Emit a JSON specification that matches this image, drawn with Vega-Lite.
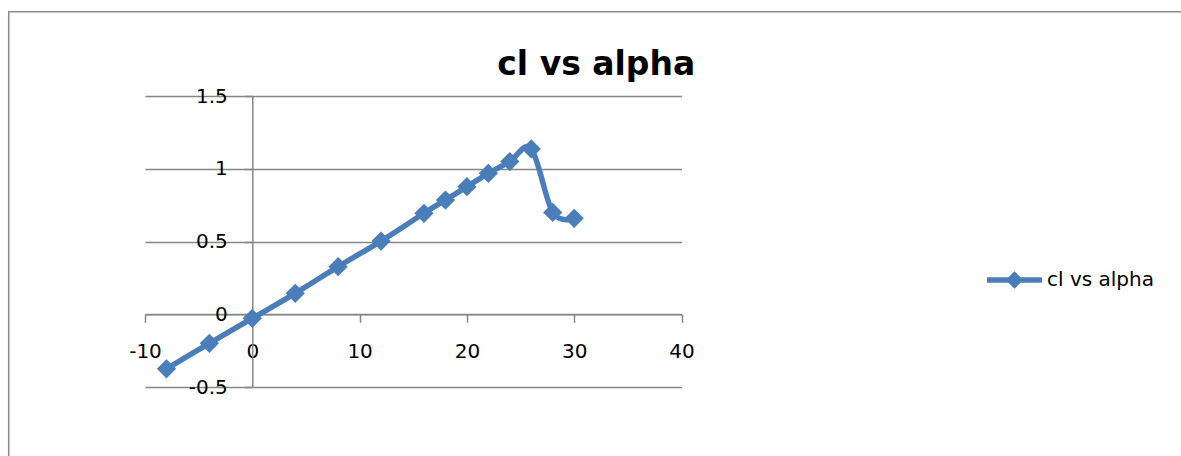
{
  "$schema": "https://vega.github.io/schema/vega-lite/v6.json",
  "autosize": {"type": "none"},
  "padding": {"left": 145, "top": 96, "right": 499.5, "bottom": 69},
  "width": 536.5,
  "height": 291,
  "background": "white",
  "config": {"font": "DejaVu Sans", "view": {"stroke": null}},
  "title": {
    "text": "cl vs alpha",
    "font": "DejaVu Sans",
    "fontSize": 33,
    "fontWeight": "bold",
    "color": "#000000",
    "anchor": "middle",
    "frame": "group",
    "dx": 183,
    "dy": 81,
    "offset": 10
  },
  "layer": [
    {
      "data": {"values": [{"frame": "chart area"}]},
      "mark": {"type": "rect", "fill": "transparent", "stroke": "#8c8c8c", "strokeWidth": 1.5, "clip": false},
      "encoding": {
        "x": {"datum": -22.7, "type": "quantitative", "scale": {"domain": [-10, 40], "nice": false, "zero": false}},
        "x2": {"datum": 95},
        "y": {"datum": 2.079, "type": "quantitative", "scale": {"domain": [-0.5, 1.5], "nice": false, "zero": false}},
        "y2": {"datum": -1.3}
      }
    },
    {
      "data": {
        "values": [
          {"alpha": -8, "cl": -0.375, "series": "cl vs alpha"},
          {"alpha": -4, "cl": -0.2, "series": "cl vs alpha"},
          {"alpha": 0, "cl": -0.028, "series": "cl vs alpha"},
          {"alpha": 4, "cl": 0.144, "series": "cl vs alpha"},
          {"alpha": 8, "cl": 0.327, "series": "cl vs alpha"},
          {"alpha": 12, "cl": 0.503, "series": "cl vs alpha"},
          {"alpha": 16, "cl": 0.694, "series": "cl vs alpha"},
          {"alpha": 18, "cl": 0.785, "series": "cl vs alpha"},
          {"alpha": 20, "cl": 0.877, "series": "cl vs alpha"},
          {"alpha": 22, "cl": 0.969, "series": "cl vs alpha"},
          {"alpha": 24, "cl": 1.049, "series": "cl vs alpha"},
          {"alpha": 26, "cl": 1.136, "series": "cl vs alpha"},
          {"alpha": 28, "cl": 0.7, "series": "cl vs alpha"},
          {"alpha": 30, "cl": 0.659, "series": "cl vs alpha"}
        ]
      },
      "mark": {
        "type": "line",
        "interpolate": "cardinal",
        "strokeWidth": 5.5,
        "clip": false,
        "point": {"shape": "diamond", "size": 370, "filled": true, "opacity": 1}
      },
      "encoding": {
        "x": {
          "field": "alpha",
          "type": "quantitative",
          "scale": {"domain": [-10, 40], "nice": false, "zero": false},
          "axis": {
            "orient": "bottom",
            "offset": -72.75,
            "values": [-10, 0, 10, 20, 30, 40],
            "labelExpr": "'' + datum.value",
            "grid": false,
            "domainColor": "#868686",
            "domainWidth": 1.5,
            "tickColor": "#868686",
            "tickWidth": 1.5,
            "tickSize": 8,
            "labelFont": "DejaVu Sans",
            "labelFontSize": 20,
            "labelColor": "#000000",
            "labelPadding": 19.5,
            "labelFlush": false,
            "labelOverlap": false,
            "labelBound": false,
            "title": null
          }
        },
        "y": {
          "field": "cl",
          "type": "quantitative",
          "scale": {"domain": [-0.5, 1.5], "nice": false, "zero": false},
          "axis": {
            "orient": "left",
            "offset": -107.3,
            "values": [-0.5, 0, 0.5, 1, 1.5],
            "labelExpr": "'' + datum.value",
            "grid": true,
            "gridColor": "#868686",
            "gridWidth": 1.5,
            "domainColor": "#868686",
            "domainWidth": 1.5,
            "tickColor": "#868686",
            "tickWidth": 1.5,
            "tickSize": 8,
            "labelFont": "DejaVu Sans",
            "labelFontSize": 20,
            "labelColor": "#000000",
            "labelPadding": 17,
            "labelFlush": false,
            "labelOverlap": false,
            "labelBound": false,
            "title": null
          }
        },
        "color": {
          "field": "series",
          "type": "nominal",
          "scale": {"range": ["#4a7ebb"]},
          "legend": {
            "title": null,
            "orient": "none",
            "legendX": 839,
            "legendY": 153.5,
            "padding": 0,
            "symbolType": "M-1,0L-0.18,0L0,-0.18L0.18,0L1,0L0.18,0L0,0.18L-0.18,0Z",
            "symbolSize": 3025,
            "symbolStrokeWidth": 5.5,
            "symbolStrokeColor": "#4a7ebb",
            "symbolFillColor": "#4a7ebb",
            "symbolOpacity": 1,
            "labelFont": "DejaVu Sans",
            "labelFontSize": 20,
            "labelColor": "#000000",
            "labelOffset": 2
          }
        }
      }
    }
  ]
}
